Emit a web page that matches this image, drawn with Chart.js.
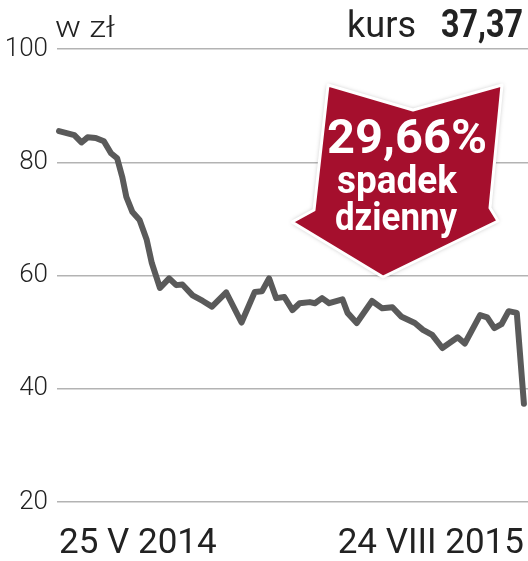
<!DOCTYPE html>
<html lang="pl">
<head>
<meta charset="UTF-8">
<title>kurs</title>
<script src="https://cdn.jsdelivr.net/npm/chart.js@4/dist/chart.umd.min.js"></script>
<style>
  body { margin: 0; background: #fff; }
</style>
</head>
<body>
<canvas id="chart" width="528" height="561"></canvas>
<script>
// dni od 25 V 2014 i kurs w zł
var days   = [0, 15, 22, 28, 36, 44, 51, 57, 62, 66, 72, 79, 86, 91, 99, 108, 115, 121, 131, 141,
              150, 164, 179, 192, 199, 206, 213, 221, 229, 236, 246, 251, 258, 265, 278, 283, 292, 307, 317, 327,
              336, 349, 357, 366, 376, 391, 398, 413, 420, 427, 434, 441, 449, 456];
var prices = [85.5, 84.8, 83.5, 84.4, 84.3, 83.7, 81.6, 80.7, 77.4, 73.9, 71.2, 69.8, 66.3, 62.2, 57.8, 59.5, 58.3, 58.4, 56.5, 55.5,
              54.5, 57.0, 51.7, 57.1, 57.2, 59.5, 56.0, 56.2, 53.9, 55.1, 55.3, 55.1, 56.0, 55.1, 55.8, 53.4, 51.6, 55.5, 54.2, 54.4,
              52.7, 51.6, 50.4, 49.5, 47.2, 49.1, 48.0, 53.0, 52.6, 50.7, 51.4, 53.7, 53.4, 37.37];
var xTickDays   = [0, 456];
var xTickLabels = ['25 V 2014', '24 VIII 2015'];
var yTicks = [20, 40, 60, 80, 100];

var unitLabel = 'w zł';
var lastLabel = 'kurs';
var lastValue = '37,37';
var dropLines = ['29,66%', 'spadek', 'dzienny'];

var points = days.map(function (d, i) { return { x: d, y: prices[i] }; });

// text squeezed to a given width
function fitText(ctx, text, x, y, width, align) {
  var w = ctx.measureText(text).width;
  var s = width / w;
  ctx.save();
  ctx.translate(x, y);
  ctx.scale(s, 1);
  ctx.textAlign = align;
  ctx.fillText(text, 0, 0);
  ctx.restore();
}

var extras = {
  id: 'extras',
  afterDraw: function (chart) {
    var ctx = chart.ctx;
    ctx.save();
    ctx.textBaseline = 'alphabetic';
    ctx.fillStyle = '#222';
    ctx.font = '300 30px Roboto';
    fitText(ctx, unitLabel, 55, 37, 60, 'left');
    ctx.font = '400 36px Roboto';
    fitText(ctx, lastLabel, 347, 37, 69, 'left');
    ctx.font = '700 38px Roboto';
    fitText(ctx, lastValue, 523, 37, 82, 'right');

    // strzałka
    ctx.beginPath();
    ctx.moveTo(328, 85);
    ctx.lineTo(413, 110);
    ctx.lineTo(502, 85);
    ctx.lineTo(490, 208);
    ctx.lineTo(498, 221);
    ctx.lineTo(383, 277);
    ctx.lineTo(292, 222);
    ctx.lineTo(314, 210);
    ctx.closePath();
    ctx.lineJoin = 'round';
    ctx.shadowColor = 'rgba(0,0,0,0.35)';
    ctx.shadowBlur = 5;
    ctx.fillStyle = '#a50f2d';
    ctx.fill();
    ctx.shadowColor = 'transparent';
    ctx.strokeStyle = '#fff';
    ctx.lineWidth = 3;
    ctx.stroke();

    ctx.fillStyle = '#fff';
    ctx.font = '700 48px Roboto';
    fitText(ctx, dropLines[0], 407, 153, 160, 'center');
    ctx.font = '700 39px Roboto';
    fitText(ctx, dropLines[1], 397, 193, 120, 'center');
    fitText(ctx, dropLines[2], 396, 230, 122, 'center');
    ctx.restore();
  }
};

new Chart(document.getElementById('chart').getContext('2d'), {
  type: 'line',
  data: {
    datasets: [{
      data: points,
      borderColor: '#5a5a5a',
      borderWidth: 6,
      borderJoinStyle: 'round',
      borderCapStyle: 'round',
      pointRadius: 0,
      tension: 0,
      clip: false
    }]
  },
  options: {
    responsive: false,
    animation: false,
    events: [],
    layout: { padding: { top: 49, right: 0, left: 0, bottom: 0 } },
    plugins: { legend: { display: false }, tooltip: { enabled: false } },
    scales: {
      x: {
        type: 'linear',
        min: -2,
        max: 460,
        afterBuildTicks: function (axis) {
          axis.ticks = xTickDays.map(function (v) { return { value: v }; });
        },
        afterFit: function (axis) {
          axis.height = 59;
          axis.paddingLeft = 0;
          axis.paddingRight = 0;
        },
        grid: { display: false, drawTicks: false },
        border: { display: false },
        ticks: {
          autoSkip: false,
          maxRotation: 0,
          align: 'inner',
          padding: 21,
          color: '#222',
          font: { family: 'Roboto', size: 35, weight: '400' },
          callback: function (v) { return xTickLabels[xTickDays.indexOf(v)]; }
        }
      },
      y: {
        min: 20,
        max: 100,
        afterBuildTicks: function (axis) {
          axis.ticks = yTicks.map(function (v) { return { value: v }; });
        },
        afterFit: function (axis) {
          axis.width = 57;
          axis.paddingTop = 0;
          axis.paddingBottom = 0;
        },
        grid: { color: '#b3b3b3', lineWidth: 1.5, drawTicks: false },
        border: { display: false },
        ticks: {
          padding: 9,
          color: '#222',
          font: { family: 'Roboto', size: 26, weight: '300' }
        }
      }
    }
  },
  plugins: [extras]
});
</script>
</body>
</html>
